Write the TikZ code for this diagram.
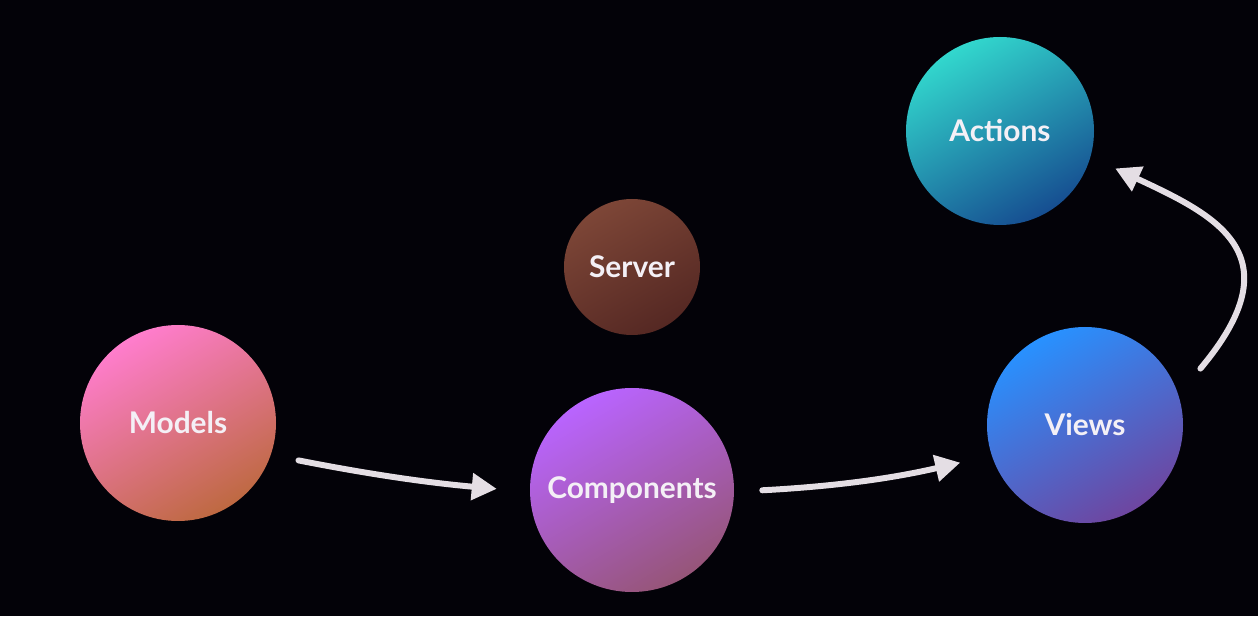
\documentclass[tikz,border=0pt]{standalone}
\usepackage{fontspec}
\setmainfont{Lato}
\usetikzlibrary{arrows.meta}

\definecolor{bgBlack}{RGB}{3,2,8}
\definecolor{flowGray}{RGB}{228,222,228}
\definecolor{labelWhite}{RGB}{244,240,246}
\definecolor{modelsTop}{RGB}{255,125,205}
\definecolor{modelsBot}{RGB}{190,105,65}
\definecolor{compTop}{RGB}{185,100,255}
\definecolor{compBot}{RGB}{150,85,120}
\definecolor{serverTop}{RGB}{125,70,55}
\definecolor{serverBot}{RGB}{85,40,35}
\definecolor{viewsTop}{RGB}{40,145,255}
\definecolor{viewsBot}{RGB}{110,70,160}
\definecolor{actionsTop}{RGB}{50,215,205}
\definecolor{actionsBot}{RGB}{22,78,145}

\begin{document}
\begin{tikzpicture}[
  ball/.style={circle, inner sep=0pt, text=labelWhite,
    font=\fontsize{17}{20}\selectfont\bfseries},
  flow/.style={line width=3.4pt, draw=flowGray, line cap=round,
    -{Triangle[length=0.5cm,width=0.52cm]}}
]
% Black backdrop
\fill[bgBlack] (0,0) rectangle (25.16,12.32);
\useasboundingbox (0,0) rectangle (25.16,12.32);

% The five balls
\node[ball, minimum size=3.92cm, top color=modelsTop, bottom color=modelsBot, shading angle=30]
  (models) at (3.56,3.86) {Models};
\node[ball, minimum size=4.08cm, top color=compTop, bottom color=compBot, shading angle=30]
  (components) at (12.64,2.52) {Components};
\node[ball, minimum size=2.72cm, top color=serverTop, bottom color=serverBot, shading angle=30]
  (server) at (12.64,6.98) {Server};
\node[ball, minimum size=3.92cm, top color=viewsTop, bottom color=viewsBot, shading angle=30]
  (views) at (21.70,3.82) {Views};
\node[ball, minimum size=3.76cm, top color=actionsTop, bottom color=actionsBot, shading angle=30]
  (actions) at (20.00,9.70) {Actions};

% Flow arrows
\draw[flow, shorten <=0.56cm, shorten >=0.66cm] (models.-19) to[bend right=3] (components.181);
\draw[flow, shorten <=0.56cm, shorten >=0.64cm] (components.-1) to[bend right=5] (views.198);
\draw[flow, shorten <=0.68cm, shorten >=0.54cm]
  (views.18) .. controls +(2.37,2.82) and +(2.48,-1.16) .. (actions.-16);
\end{tikzpicture}
\end{document}
